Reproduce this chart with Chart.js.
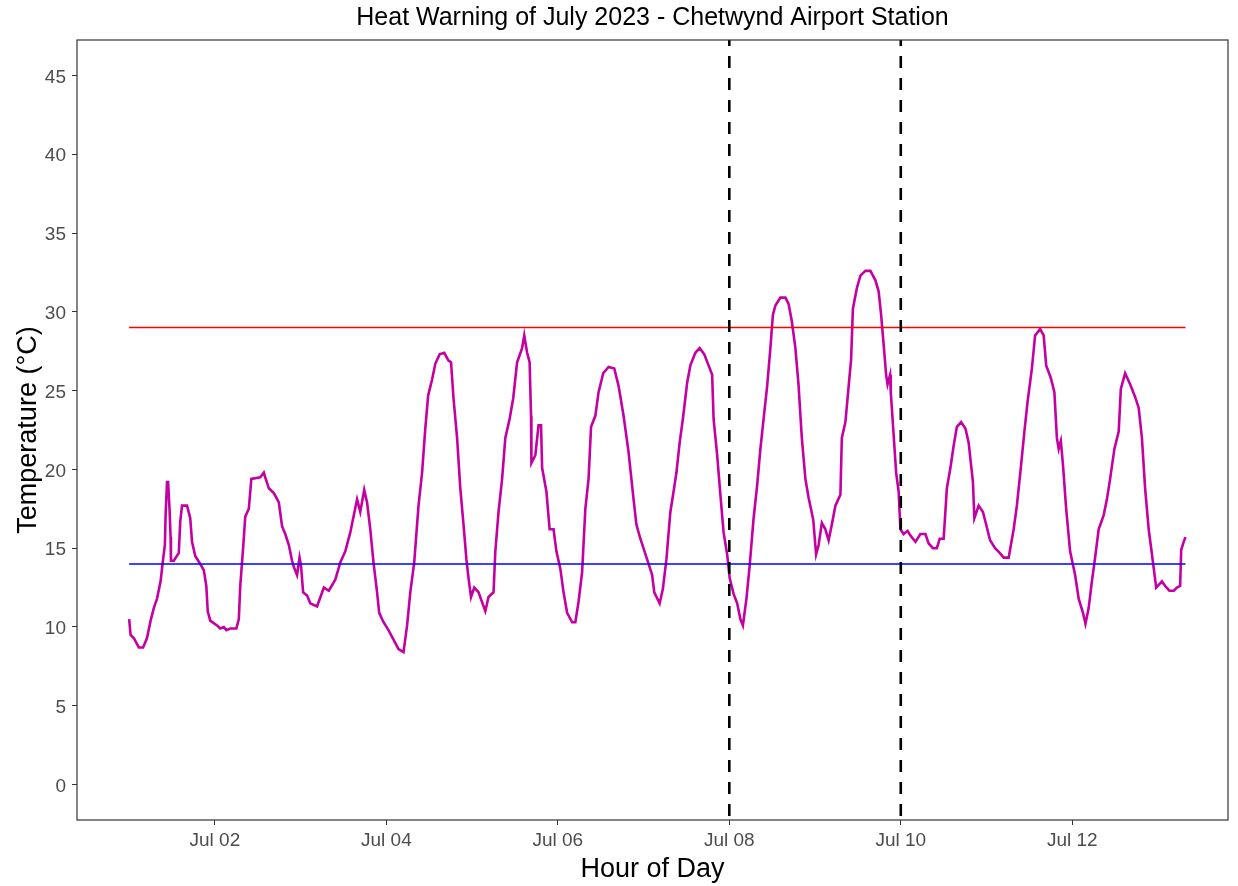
<!DOCTYPE html>
<html>
<head>
<meta charset="utf-8">
<title>Heat Warning of July 2023 - Chetwynd Airport Station</title>
<script src="https://cdn.jsdelivr.net/npm/chart.js@4.4.0/dist/chart.umd.min.js"></script>
<style>
  html, body { margin: 0; padding: 0; background: #fff; }
  canvas { display: block; }
</style>
</head>
<body>
<canvas id="heatChart" width="1238" height="886"></canvas>
<script>
// hours since Jul 01 00:00 and temperature (°C)
const hours = [
  0.0, 0.4, 1.3, 2.7, 3.9, 5.0, 6.0, 6.9, 7.8, 8.8, 9.5, 10.0, 10.2, 10.6, 10.9, 11.3, 11.6, 11.7,
  12.5, 13.9, 14.3, 14.8, 16.2, 17.1, 17.6, 18.5, 19.9, 20.9, 21.6, 22.0, 22.7, 24.6, 25.5, 26.5,
  27.2, 28.3, 30.0, 30.7, 31.1, 31.9, 32.5, 33.5, 34.2, 36.7, 37.7, 38.1, 39.1, 40.5, 41.9, 42.8,
  43.7, 44.7, 45.6, 46.1, 47.0, 47.7, 48.1, 48.7, 49.8, 50.7, 52.6, 54.5, 55.9, 57.7, 59.1, 60.5,
  61.9, 62.9, 63.8, 64.7, 65.8, 66.6, 67.5, 68.4, 69.4, 70.0, 71.2, 72.6, 74.0, 75.4, 76.8, 77.8,
  78.7, 79.8, 81.0, 82.0, 82.9, 83.7, 84.8, 85.7, 86.9, 88.2, 89.4, 90.1, 90.8, 91.8, 92.7, 93.6,
  94.4, 95.0, 95.7, 96.6, 97.8, 99.7, 100.6, 102.0, 102.5, 103.4, 104.4, 105.3, 106.5, 107.5, 108.6,
  110.0, 110.6, 111.4, 112.1, 112.5, 112.6, 113.7, 114.6, 115.3, 115.6, 116.8, 117.7, 118.8, 119.6,
  120.7, 121.6, 122.6, 124.0, 124.9, 125.8, 126.8, 127.7, 128.6, 129.3, 130.5, 131.4, 132.7, 134.2,
  135.8, 137.0, 138.4, 139.8, 141.2, 142.0, 143.1, 144.7, 146.4, 147.0, 148.5, 149.4, 150.4, 151.5,
  152.4, 153.2, 154.1, 155.0, 156.2, 157.1, 158.5, 159.7, 161.0, 162.2, 163.2, 163.6, 164.6, 165.5,
  166.4, 167.4, 168.1, 169.2, 170.2, 171.1, 171.8, 172.8, 173.7, 174.8, 175.8, 176.7, 177.6, 178.6,
  179.5, 180.2, 180.9, 182.3, 183.7, 184.6, 185.5, 186.5, 187.4, 188.3, 189.3, 190.2, 191.5, 192.3,
  193.0, 193.9, 194.9, 195.8, 196.7, 197.7, 199.1, 199.5, 200.5, 201.1, 202.1, 202.6, 203.7, 204.7,
  206.1, 207.5, 208.9, 209.8, 210.5, 211.4, 211.9, 212.3, 213.0, 213.2, 214.0, 214.7, 215.4, 215.9,
  216.8, 217.9, 218.7, 220.1, 221.5, 222.9, 223.8, 225.0, 226.1, 226.9, 228.0, 228.9, 229.9, 230.8,
  231.7, 232.9, 234.1, 235.0, 236.2, 236.6, 237.8, 239.0, 239.9, 241.0, 242.4, 243.7, 244.8, 246.2,
  247.6, 248.5, 249.6, 250.6, 251.5, 252.7, 253.6, 255.0, 256.0, 256.7, 258.0, 259.0, 259.7, 260.2,
  260.8, 261.4, 262.3, 263.4, 264.8, 265.8, 267.0, 267.7, 268.6, 269.5, 270.4, 271.4, 272.8, 273.7,
  274.6, 275.8, 277.0, 277.6, 278.8, 280.2, 281.6, 282.6, 283.5, 284.4, 285.4, 286.6, 287.5, 289.1,
  290.0, 291.2, 292.4, 293.3, 294.2, 294.5, 295.2, 295.7
];
const temps = [
  10.5, 9.5, 9.3, 8.7, 8.7, 9.3, 10.4, 11.2, 11.8, 12.9, 14.3, 15.2, 17.1, 19.2, 19.2, 17.5, 15.7, 14.2,
  14.2, 14.7, 16.7, 17.7, 17.7, 16.9, 15.4, 14.5, 14.0, 13.6, 12.6, 11.0, 10.4, 10.1, 9.9, 10.0,
  9.8, 9.9, 9.9, 10.5, 12.6, 15.0, 17.0, 17.5, 19.4, 19.5, 19.8, 19.5, 18.8, 18.5, 17.9, 16.4,
  15.9, 15.2, 14.2, 13.8, 13.3, 14.4, 13.9, 12.2, 12.0, 11.5, 11.3, 12.5, 12.3, 13.0, 14.1, 14.8,
  16.0, 17.1, 18.1, 17.3, 18.7, 17.9, 16.2, 14.1, 12.2, 10.9, 10.3, 9.8, 9.2, 8.6, 8.4, 10.1,
  12.2, 14.1, 17.7, 19.8, 22.6, 24.7, 25.7, 26.7, 27.3, 27.4, 26.9, 26.8, 24.5, 22.0, 18.8, 16.5,
  14.3, 13.1, 11.9, 12.5, 12.2, 11.0, 11.9, 12.2, 14.8, 17.3, 19.4, 22.0, 23.2, 24.5, 26.8,
  27.7, 28.5, 27.4, 26.8, 23.4, 20.4, 20.9, 22.8, 22.8, 20.1, 18.6, 16.2, 16.2, 14.8,
  13.7, 12.2, 10.9, 10.3, 10.3, 11.6, 13.5, 17.5, 19.4, 22.7, 23.4, 24.9, 26.1, 26.5,
  26.4, 25.3, 23.4, 21.1, 18.1, 16.5, 15.6, 14.5, 13.3, 12.2, 11.5, 12.4, 14.3, 17.3,
  18.6, 19.8, 21.7, 23.2, 25.5, 26.6, 27.4, 27.7, 27.3, 26.6, 26.0, 23.2, 20.9, 18.4,
  16.0, 14.6, 13.1, 12.1, 11.5, 10.5, 10.1, 11.8, 13.9, 16.9, 19.0, 21.3, 23.2, 25.3,
  27.7, 29.8, 30.4, 30.9, 30.9, 30.5, 29.4, 27.7, 25.3, 22.0, 19.4, 18.2, 16.8, 14.6,
  15.2, 16.6, 16.2, 15.5, 16.5, 17.7, 18.4, 22.0, 23.0, 24.5, 27.0, 30.2, 31.5, 32.3,
  32.6, 32.6, 32.0, 31.3, 29.8, 27.4, 26.0, 25.4, 26.0, 24.9, 22.2, 19.8, 18.6, 16.2,
  15.9, 16.1, 15.8, 15.4, 15.9, 15.9, 15.3, 15.0, 15.0, 15.6, 15.6, 18.8, 20.1, 21.5,
  22.7, 23.0, 22.6, 21.7, 19.2, 16.9, 17.7, 17.3, 16.5, 15.5, 15.0, 14.7, 14.4, 14.4,
  16.2, 17.7, 20.1, 22.4, 24.3, 26.4, 28.5, 28.9, 28.5, 26.6, 25.8, 24.9, 22.0, 21.3,
  21.8, 20.3, 17.5, 14.8, 13.3, 11.8, 10.9, 10.2, 11.2, 12.9, 14.4, 16.2, 17.1, 18.1,
  19.4, 21.3, 22.4, 25.1, 26.1, 25.4, 24.6, 23.9, 22.0, 18.8, 16.2, 14.1, 12.5, 12.9,
  12.6, 12.3, 12.3, 12.5, 12.6, 14.9, 15.4, 15.7
];
const upperLimit = 29;
const lowerLimit = 14;
const warningBounds = [168, 216]; // Jul 08 and Jul 10
const dayTicks = [24, 72, 120, 168, 216, 264]; // Jul 02 ... Jul 12
const tempTicks = [0, 5, 10, 15, 20, 25, 30, 35, 40, 45];
const chartTitle = 'Heat Warning of July 2023 - Chetwynd Airport Station';

const yMin = -2.25, yMax = 47.25;
const fontFamily = '"Liberation Sans", Arial, sans-serif';

const tempPoints = hours.map((h, i) => ({ x: h, y: temps[i] }));
const first = hours[0], last = hours[hours.length - 1];

// panel box like ggplot's theme_bw, and the title centred over the panel
const panelBorder = {
    id: 'panelBorder',
    afterDraw(chart) {
        const { ctx, chartArea: a } = chart;
        ctx.save();
        ctx.strokeStyle = '#333333';
        ctx.lineWidth = 1.2;
        ctx.strokeRect(a.left, a.top, a.right - a.left, a.bottom - a.top);
        ctx.fillStyle = '#000000';
        ctx.font = '25px ' + fontFamily;
        ctx.textAlign = 'center';
        ctx.textBaseline = 'alphabetic';
        ctx.fillText(chartTitle, (a.left + a.right) / 2, 25);
        ctx.restore();
    }
};

// dashed vertical line drawn from the top down
const vline = (x) => ({
    data: [{ x: x, y: yMax }, { x: x, y: yMin }],
    borderColor: '#000000',
    borderWidth: 2.6,
    borderDash: [12, 10],
    borderDashOffset: 6,
    pointRadius: 0,
    order: 0
});

const heatCtx = document.getElementById('heatChart').getContext('2d');
const heatChart = new Chart(heatCtx, {
    type: 'line',
    data: {
        datasets: [
            vline(warningBounds[0]),
            vline(warningBounds[1]),
            {
                data: [{ x: first, y: upperLimit }, { x: last, y: upperLimit }],
                borderColor: '#ff0000',
                borderWidth: 1.5,
                pointRadius: 0,
                order: 1
            },
            {
                data: [{ x: first, y: lowerLimit }, { x: last, y: lowerLimit }],
                borderColor: '#0000ff',
                borderWidth: 1.5,
                pointRadius: 0,
                order: 1
            },
            {
                data: tempPoints,
                borderColor: '#c400a2',
                borderWidth: 2.6,
                pointRadius: 0,
                tension: 0,
                order: 2
            }
        ]
    },
    options: {
        responsive: false,
        animation: false,
        devicePixelRatio: 1,
        layout: { padding: { left: 0, right: 10, top: 40, bottom: 0 } },
        plugins: {
            legend: { display: false },
            tooltip: { enabled: false },
            title: { display: false }
        },
        scales: {
            x: {
                type: 'linear',
                min: -14.6,
                max: 307.6,
                afterBuildTicks: (scale) => { scale.ticks = dayTicks.map(v => ({ value: v })); },
                afterFit: (scale) => { scale.height = 66; },
                grid: { drawOnChartArea: false, drawTicks: true, tickLength: 5, color: '#333333' },
                border: { display: false },
                ticks: {
                    color: '#4d4d4d',
                    font: { family: fontFamily, size: 19 },
                    padding: 4,
                    maxRotation: 0,
                    callback: (v) => 'Jul ' + String(v / 24 + 1).padStart(2, '0')
                },
                title: {
                    display: true,
                    text: 'Hour of Day',
                    color: '#000000',
                    font: { family: fontFamily, size: 27 },
                    padding: { top: 0, bottom: 0 }
                }
            },
            y: {
                min: yMin,
                max: yMax,
                afterBuildTicks: (scale) => { scale.ticks = tempTicks.map(v => ({ value: v })); },
                afterFit: (scale) => { scale.width = 77; },
                grid: { drawOnChartArea: false, drawTicks: true, tickLength: 5, color: '#333333' },
                border: { display: false },
                ticks: {
                    color: '#4d4d4d',
                    font: { family: fontFamily, size: 19 },
                    padding: 6,
                    labelOffset: 2
                },
                title: {
                    display: true,
                    text: 'Temperature (°C)',
                    color: '#000000',
                    font: { family: fontFamily, size: 27 },
                    padding: { top: 12, bottom: 0 }
                }
            }
        }
    },
    plugins: [panelBorder]
});
</script>
</body>
</html>
